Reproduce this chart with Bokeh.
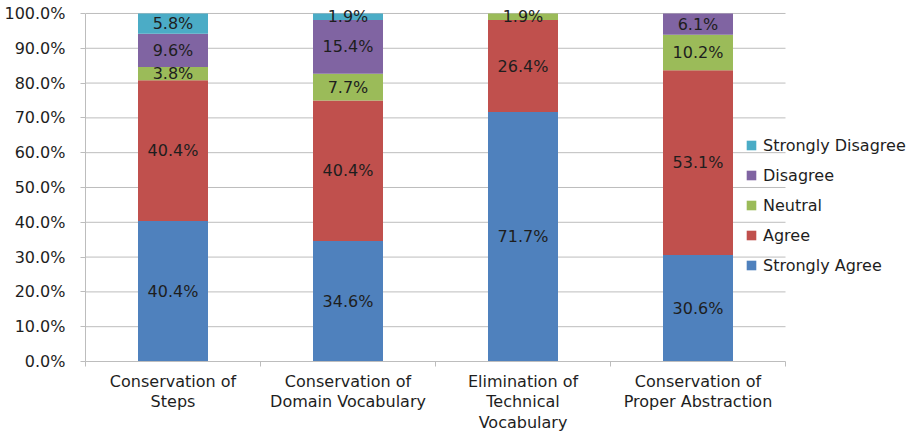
from bokeh.plotting import figure
from bokeh.models import (ColumnDataSource, Range1d, FixedTicker, NumeralTickFormatter,
                          Legend, LegendItem)
from bokeh.core.properties import value
from bokeh.embed import file_html
from bokeh.resources import INLINE

categories = ["Conservation of\nSteps", "Conservation of\nDomain Vocabulary",
              "Elimination of\nTechnical\nVocabulary", "Conservation of\nProper Abstraction"]
series_names = ["Strongly Agree", "Agree", "Neutral", "Disagree", "Strongly Disagree"]
strongly_agree = [40.4, 34.6, 71.7, 30.6]
agree = [40.4, 40.4, 26.4, 53.1]
neutral = [3.8, 7.7, 1.9, 10.2]
disagree = [9.6, 15.4, 0.0, 6.1]
strongly_disagree = [5.8, 1.9, 0.0, 0.0]
y_ticks = [0.0, 0.1, 0.2, 0.3, 0.4, 0.5, 0.6, 0.7, 0.8, 0.9, 1.0]

colors = ["#4F81BD", "#C0504D", "#9BBB59", "#8064A2", "#4BACC6"]
FONT = "DejaVu Sans"
FS = "16px"
TXT = "#1E1E1E"
GRAY = "#BDBDBD"

# layout constants
W, H = 916, 434
LEFT, TOP_PAD, BOTTOM = 85, 3, 72
PLOT_W, PLOT_H = 700, 349            # pixel extent of the category area and 0..100%
n = len(categories)
frame_w = W - LEFT
x_end = n * frame_w / PLOT_W
y_end = 1.0 + 10.0 / PLOT_H

series = [strongly_agree, agree, neutral, disagree, strongly_disagree]
xs = [i + 0.5 for i in range(n)]

data = {"x": xs}
for name, vals in zip(series_names, series):
    data[name] = [v / 100.0 for v in vals]
source = ColumnDataSource(data)

p = figure(width=W, height=H, x_range=Range1d(0, x_end), y_range=Range1d(0, y_end),
           output_backend="svg", toolbar_location=None,
           min_border_left=LEFT, min_border_right=0, min_border_top=TOP_PAD,
           min_border_bottom=BOTTOM)
p.outline_line_color = None
p.background_fill_color = "white"
p.xgrid.grid_line_color = None
p.ygrid.grid_line_color = None

# gridlines limited to the category area
gy = y_ticks[1:]
p.segment(x0=[0] * len(gy), x1=[n] * len(gy), y0=gy, y1=gy, line_color=GRAY, line_width=1)

renderers = p.vbar_stack(series_names, x="x", width=0.4, source=source,
                         fill_color=colors, line_color=None)

# value labels
lx, ly, lt = [], [], []
for i in range(n):
    base = 0.0
    for vals in series:
        v = vals[i] / 100.0
        if v > 0:
            lx.append(xs[i])
            ly.append(base + v / 2)
            lt.append(f"{vals[i]:.1f}%")
        base += v
p.text(x=lx, y=ly, text=lt, text_align="center", text_baseline="middle",
       text_font=value(FONT), text_font_size=FS, text_color=TXT)

# axes
p.yaxis.ticker = FixedTicker(ticks=y_ticks)
p.yaxis.formatter = NumeralTickFormatter(format="0.0%")
p.yaxis.bounds = (0, 1)
p.yaxis.axis_line_color = GRAY
p.yaxis.major_tick_line_color = GRAY
p.yaxis.major_tick_out = 5
p.yaxis.major_tick_in = 0
p.yaxis.minor_tick_line_color = None
p.yaxis.major_label_standoff = 15

p.xaxis.ticker = FixedTicker(ticks=xs, minor_ticks=list(range(n + 1)))
p.xaxis.major_label_overrides = {x: c for x, c in zip(xs, categories)}
p.xaxis.bounds = (0, n)
p.xaxis.axis_line_color = GRAY
p.xaxis.major_tick_line_color = None
p.xaxis.major_tick_out = 5
p.xaxis.major_tick_in = 0
p.xaxis.minor_tick_line_color = GRAY
p.xaxis.minor_tick_out = 5
p.xaxis.minor_tick_in = 0
p.xaxis.major_label_standoff = 5
p.xaxis.major_label_text_line_height = 1.08

for ax in (p.xaxis[0], p.yaxis[0]):
    ax.major_label_text_font = FONT
    ax.major_label_text_font_size = FS
    ax.major_label_text_color = TXT
    ax.major_label_text_font_style = "normal"

items = [LegendItem(label=nm, renderers=[r]) for nm, r in zip(series_names, renderers)]
legend = Legend(items=items[::-1], location=(660, 86))
legend.padding = 0
legend.margin = 0
legend.spacing = 10
legend.glyph_width = 12
legend.glyph_height = 12
legend.label_height = 20
legend.label_standoff = 6
legend.label_text_font = FONT
legend.label_text_font_size = FS
legend.label_text_color = TXT
legend.border_line_color = None
legend.background_fill_alpha = 0
p.add_layout(legend)

open("out.html", "w").write(file_html(p, INLINE))
